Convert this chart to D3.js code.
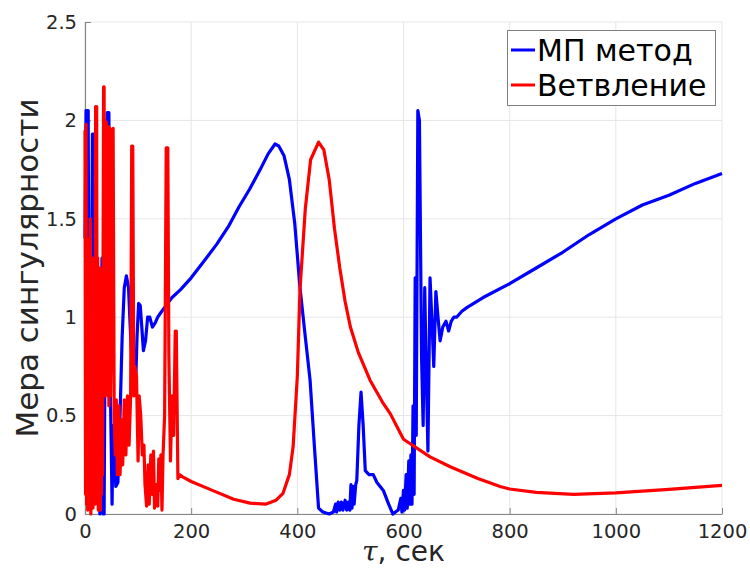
<!DOCTYPE html>
<html>
<head>
<meta charset="utf-8">
<script src="https://cdn.jsdelivr.net/npm/d3@7"></script>
<style>
  body { margin: 0; background: #fff; }
  svg { display: block; font-family: "DejaVu Sans", sans-serif; }
</style>
</head>
<body>
<div id="chart"></div>
<script>
// axis ticks
const xTicks = [0, 200, 400, 600, 800, 1000, 1200];
const yTicks = [0, 0.5, 1, 1.5, 2, 2.5];

// "МП метод" (blue)
const mpTime = [0, 2, 6, 8, 10, 12, 14, 16, 18, 20, 24, 28, 30, 32, 34, 36, 38, 42, 45, 48, 51,
  53, 56, 58, 62, 66, 70, 74, 78, 82, 86, 90, 95, 98, 101, 104, 107, 110, 114, 118, 122, 127, 132,
  137, 142, 150, 164, 180, 200, 220, 248, 270, 290, 310, 330, 345, 358, 365, 375, 385, 395, 405, 415, 424, 432, 440,
  448, 460, 468, 472, 474, 477, 480, 483, 486, 490, 493, 496, 499, 501, 503, 505, 507, 510, 512,
  516, 520, 524, 528, 535, 543, 550, 562, 572, 580, 590, 595, 597, 600, 602, 605, 607, 610, 612,
  614, 616, 618, 620, 622, 624, 627, 630, 634, 637, 640, 643, 646, 650, 654, 657, 661, 665, 669,
  674, 680, 685, 690, 695, 700, 710, 720, 750, 800, 850, 900, 950, 1000, 1050, 1100, 1150, 1200];
const mpValue = [1.4, 2.05, 2.05, 0.3, 0.05, 1.0, 1.93, 1.93, 0.5, 0.1, 1.1, 0.0, 0.7, 1.3, 0.0, 0.0, 1.0, 2.04, 2.04, 0.6, 0.05,
  0.45, 0.3, 0.14, 0.16, 0.5, 0.9, 1.15, 1.21, 1.15, 0.9, 0.7, 0.62, 0.9, 1.07, 1.06, 0.95, 0.83, 0.88, 1.0, 1.0, 0.95, 0.97,
  1.0, 1.02, 1.05, 1.10, 1.14, 1.20, 1.27, 1.37, 1.46, 1.56, 1.65, 1.75, 1.83, 1.88, 1.87, 1.82, 1.70, 1.48, 1.15, 0.9, 0.68, 0.35, 0.03,
  0.01, 0.0, 0.01, 0.05, 0.01, 0.06, 0.02, 0.06, 0.02, 0.07, 0.02, 0.06, 0.02, 0.15, 0.03, 0.14, 0.05, 0.15, 0.17,
  0.45, 0.62, 0.45, 0.22, 0.2, 0.2, 0.16, 0.12, 0.05, 0.0, 0.02, 0.08, 0.01, 0.12, 0.02, 0.2, 0.03, 0.27, 0.05,
  0.3, 0.05, 0.55, 0.1, 1.2, 0.4, 2.05, 2.0, 0.8, 0.45, 1.15, 0.7, 0.32, 1.2, 0.95, 0.75, 1.13, 1.0, 0.88,
  0.95, 0.98, 0.93, 0.98, 1.0, 1.0, 1.03, 1.05, 1.10, 1.17, 1.25, 1.33, 1.42, 1.50, 1.57, 1.62, 1.68, 1.73];

// "Ветвление" (red)
const branchTime = [0, 1, 2, 3, 4, 5, 6, 7, 8, 9, 10, 11, 12, 13, 14, 15, 16, 17, 18, 19, 20, 21, 22,
  23, 24, 25, 26, 27, 28, 29, 30, 31, 32, 33, 34, 35, 36, 37, 38, 39, 40, 41, 42, 43, 44, 45, 46, 47,
  48, 50, 53, 55, 57, 59, 61, 64, 66, 69, 71, 74, 77, 80, 83, 86, 88, 90, 92, 94, 97, 100, 102, 105,
  108, 111, 113, 116, 119, 121, 124, 127, 129, 131, 134, 137, 139, 141, 143, 145, 147, 150, 153, 156,
  158, 161, 164, 167, 170, 172, 175, 178, 183, 200, 240, 280, 311, 340, 360, 373, 385, 392, 400, 405,
  415, 425, 440, 450, 460, 470, 480, 490, 500, 515, 537, 560, 575, 600, 650, 688, 740, 782, 800, 850,
  920, 1000, 1100, 1200];
const branchValue = [1.95, 0.1, 1.98, 0.05, 1.4, 0.02, 1.3, 0.1, 1.25, 0.05, 1.5, 0.0, 1.2, 0.2, 1.3, 0.03, 1.28, 0.1, 1.1, 0.05, 2.07, 0.08, 2.07,
  0.3, 1.3, 0.02, 1.2, 0.1, 1.25, 0.02, 1.0, 0.1, 0.5, 0.2, 1.3, 2.17, 2.17, 0.6, 2.0, 0.7, 1.99, 0.8, 1.2, 0.6, 1.97, 0.55, 1.96, 1.96,
  0.6, 1.0, 1.96, 0.5, 0.3, 0.58, 0.2, 0.55, 0.2, 0.48, 0.25, 0.58, 0.3, 0.6, 0.35, 0.6, 1.87, 1.87, 0.6, 0.75, 0.7, 0.27, 0.6, 0.5,
  0.3, 0.35, 0.15, 0.04, 0.25, 0.05, 0.3, 0.1, 0.32, 0.03, 0.15, 0.04, 0.28, 0.12, 0.3, 0.02, 0.3, 0.5, 1.86, 1.86,
  0.8, 0.27, 0.6, 0.4, 0.93, 0.93, 0.18, 0.2, 0.19, 0.165, 0.12, 0.075, 0.055, 0.05, 0.07, 0.105, 0.2, 0.34, 0.7, 1.14,
  1.55, 1.8, 1.89, 1.85, 1.7, 1.45, 1.25, 1.08, 0.95, 0.82, 0.68, 0.57, 0.51, 0.38, 0.29, 0.24, 0.18, 0.14, 0.127, 0.11,
  0.10, 0.107, 0.125, 0.145];

const seriesNames = ["МП метод", "Ветвление"];
const seriesColors = ["#0000ff", "#ff0000"];

const width = 750, height = 568;
const margin = { top: 22, right: 28, bottom: 54, left: 85 };

const svg = d3.select("#chart").append("svg")
  .attr("width", width)
  .attr("height", height);

const x = d3.scaleLinear().domain([0, 1200]).range([margin.left, width - margin.right]);
const y = d3.scaleLinear().domain([0, 2.5]).range([height - margin.bottom, margin.top]);

// grid
svg.append("g").selectAll("line").data(xTicks).join("line")
  .attr("x1", d => x(d)).attr("x2", d => x(d))
  .attr("y1", y(0)).attr("y2", y(2.5))
  .attr("stroke", "#e6e6e6").attr("stroke-width", 1);
svg.append("g").selectAll("line").data(yTicks).join("line")
  .attr("x1", x(0)).attr("x2", x(1200))
  .attr("y1", d => y(d)).attr("y2", d => y(d))
  .attr("stroke", "#e6e6e6").attr("stroke-width", 1);

// axes
const xAxis = svg.append("g")
  .attr("transform", `translate(0,${y(0)})`)
  .call(d3.axisBottom(x).tickValues(xTicks).tickSizeInner(-6).tickSizeOuter(0).tickPadding(10)
    .tickFormat(d3.format("d")));
const yAxis = svg.append("g")
  .attr("transform", `translate(${x(0)},0)`)
  .call(d3.axisLeft(y).tickValues(yTicks).tickSizeInner(-6).tickSizeOuter(0).tickPadding(8)
    .tickFormat(d3.format("~g")));
[xAxis, yAxis].forEach(g => {
  g.select(".domain").attr("stroke", "#858585").attr("stroke-width", 1.2);
  g.selectAll(".tick line").attr("stroke", "#858585");
  g.selectAll(".tick text")
    .attr("fill", "#262626")
    .style("font-size", "19.5px")
    .style("font-family", "DejaVu Sans, sans-serif");
});

// lines
const line = d3.line().x(d => x(d[0])).y(d => y(d[1]));
const mpData = mpTime.map((t, i) => [t, mpValue[i]]);
const branchData = branchTime.map((t, i) => [t, branchValue[i]]);

[mpData, branchData].forEach((data, i) => {
  svg.append("path")
    .datum(data)
    .attr("d", line)
    .attr("fill", "none")
    .attr("stroke", seriesColors[i])
    .attr("stroke-width", 3.2)
    .attr("stroke-linejoin", "round");
});

// axis labels
svg.append("text")
  .attr("transform", `translate(38,${(y(0) + y(2.5)) / 2}) rotate(-90)`)
  .attr("text-anchor", "middle")
  .attr("fill", "#262626")
  .style("font-size", "31px")
  .text("Мера сингулярности");

const xLabel = svg.append("text")
  .attr("x", (x(0) + x(1200)) / 2)
  .attr("y", 561)
  .attr("text-anchor", "middle")
  .attr("fill", "#262626")
  .style("font-size", "28px");
xLabel.append("tspan").style("font-style", "italic").style("font-family", "DejaVu Serif, serif").text("τ");
xLabel.append("tspan").text(", сек");

// legend
const legend = svg.append("g");
legend.append("rect")
  .attr("x", 507.5).attr("y", 30.5)
  .attr("width", 208).attr("height", 75)
  .attr("fill", "#fff")
  .attr("stroke", "#808080")
  .attr("stroke-width", 1);
seriesNames.forEach((name, i) => {
  const cy = 50 + i * 35;
  legend.append("line")
    .attr("x1", 511).attr("x2", 535)
    .attr("y1", cy).attr("y2", cy)
    .attr("stroke", seriesColors[i])
    .attr("stroke-width", 3);
  legend.append("text")
    .attr("x", 537).attr("y", cy + 11)
    .attr("fill", "#000")
    .style("font-size", "30px")
    .text(name);
});
</script>
</body>
</html>
